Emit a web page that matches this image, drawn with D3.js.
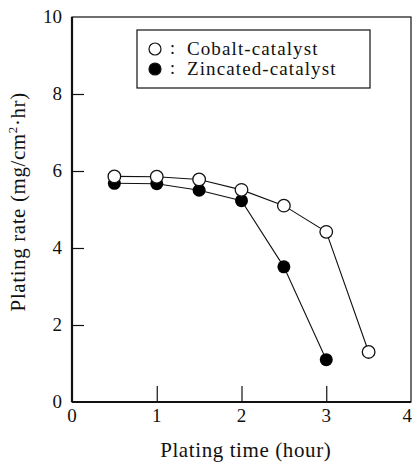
<!DOCTYPE html>
<html>
<head>
<meta charset="utf-8">
<script src="https://cdn.jsdelivr.net/npm/d3@7"></script>
<style>
  body { margin: 0; background: #fff; }
  text { font-family: "Liberation Serif", "DejaVu Serif", serif; fill: #111; }
</style>
</head>
<body>
<div id="chart"></div>
<script>
(function() {

    // plating time (hour)
    const times = [0.5, 1, 1.5, 2, 2.5, 3, 3.5];
    // plating rate (mg/cm2.hr)
    const cobalt = [5.86, 5.85, 5.78, 5.51, 5.10, 4.42, 1.30];
    const zincated = [5.68, 5.67, 5.50, 5.23, 3.51, 1.10];
    const xTicks = [0, 1, 2, 3, 4];
    const yTicks = [0, 2, 4, 6, 8, 10];

    const W = 412, H = 466;
    const margin = {top: 17, right: 1, bottom: 64, left: 72};

    let svg = d3.select("#chart").append("svg")
                .attr("width", W)
                .attr("height", H)
                .append("g")
                .attr("transform", "translate(" + margin.left + "," + margin.top + ")");

    let x = d3.scaleLinear().domain([0, 4]).range([0, 339]);
    let y = d3.scaleLinear().domain([0, 10]).range([385, 0]);

    // frame
    svg.append("rect")
        .attr("x", 0).attr("y", 0)
        .attr("width", x(4)).attr("height", y(0))
        .attr("fill", "none").attr("stroke", "#111").attr("stroke-width", 1.2);
    svg.append("line").attr("x1", 0).attr("x2", 0).attr("y1", 0).attr("y2", y(0))
        .attr("stroke", "#111").attr("stroke-width", 2.2);
    svg.append("line").attr("x1", 0).attr("x2", x(4)).attr("y1", y(0)).attr("y2", y(0))
        .attr("stroke", "#111").attr("stroke-width", 2.2);

    // ticks point inward, labels drawn separately
    svg.append("g")
        .attr("transform", "translate(0," + y(0) + ")")
        .call(d3.axisTop(x).tickValues(xTicks.slice(1, 4)).tickSize(16).tickFormat(""))
        .call(g => g.select(".domain").remove())
        .selectAll("line").attr("stroke", "#111").attr("stroke-width", 1.2);

    svg.append("g")
        .call(d3.axisRight(y).tickValues(yTicks.slice(1, 5)).tickSize(12).tickFormat(""))
        .call(g => g.select(".domain").remove())
        .selectAll("line").attr("stroke", "#111").attr("stroke-width", 1.2);

    svg.selectAll(".xlab").data(xTicks).enter().append("text")
        .attr("x", d => d === 4 ? x(d) + 1 : x(d)).attr("y", y(0) + 20)
        .attr("text-anchor", d => d === 4 ? "end" : "middle").style("font-size", "19px")
        .text(d => d);

    svg.selectAll(".ylab").data(yTicks).enter().append("text")
        .attr("x", -10).attr("y", d => y(d) + 6)
        .attr("text-anchor", "end").style("font-size", "19px")
        .text(d => d);

    svg.append("text")
        .attr("x", x(2.05)).attr("y", y(0) + 55)
        .attr("text-anchor", "middle").style("font-size", "21px")
        .style("letter-spacing", "0.6px")
        .text("Plating time (hour)");

    let yt = svg.append("text")
        .attr("transform", "translate(" + (-47) + "," + y(5.2) + ") rotate(-90)")
        .attr("text-anchor", "middle").style("font-size", "21px")
        .style("letter-spacing", "0.6px");
    yt.append("tspan").text("Plating rate (mg/cm");
    yt.append("tspan").attr("dy", -8).style("font-size", "13px").text("2");
    yt.append("tspan").attr("dy", 8).text("\u00b7hr)");

    const line = d3.line().x(d => x(d[0])).y(d => y(d[1]));
    const cobaltPts = times.map((t, i) => [t, cobalt[i]]);
    const zincPts = zincated.map((v, i) => [times[i], v]);

    [zincPts, cobaltPts].forEach(pts => {
        svg.append("path").datum(pts)
            .attr("d", line)
            .attr("fill", "none").attr("stroke", "#111").attr("stroke-width", 1.1);
    });

    svg.selectAll(".zinc").data(zincPts).enter().append("circle")
        .attr("cx", d => x(d[0])).attr("cy", d => y(d[1])).attr("r", 6.5)
        .attr("fill", "#000");

    svg.selectAll(".cob").data(cobaltPts).enter().append("circle")
        .attr("cx", d => x(d[0])).attr("cy", d => y(d[1])).attr("r", 6.3)
        .attr("fill", "#fff").attr("stroke", "#111").attr("stroke-width", 1.3);

    // legend
    let lg = svg.append("g").attr("transform", "translate(" + (137 - margin.left) + "," + (30 - margin.top) + ")");
    lg.append("rect").attr("width", 233).attr("height", 58)
        .attr("fill", "#fff").attr("stroke", "#111").attr("stroke-width", 1.2);
    const legendItems = ["Cobalt-catalyst", "Zincated-catalyst"];
    legendItems.forEach((name, i) => {
        let cy = 19 + i * 20;
        lg.append("circle").attr("cx", 18).attr("cy", cy).attr("r", 6)
            .attr("fill", i ? "#000" : "#fff").attr("stroke", "#111").attr("stroke-width", 1.2);
        lg.append("text").attr("x", 33).attr("y", cy + 5).style("font-size", "18px").text(":");
        lg.append("text").attr("x", 50).attr("y", cy + 6)
            .style("font-size", "19px").style("letter-spacing", "1.1px").text(name);
    });

})();
</script>
</body>
</html>
